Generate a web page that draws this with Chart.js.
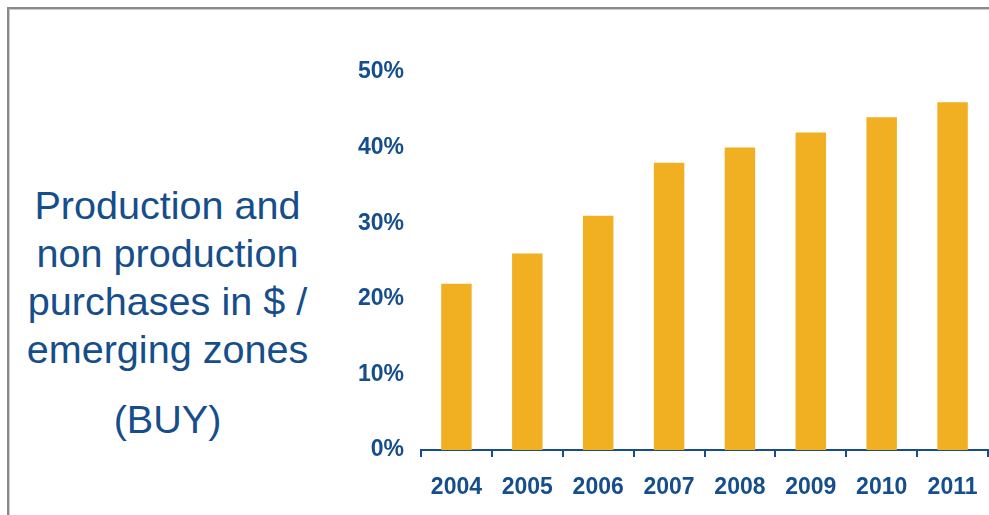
<!DOCTYPE html>
<html>
<head>
<meta charset="utf-8">
<script src="https://cdn.jsdelivr.net/npm/chart.js@4"></script>
<style>
  html,body{margin:0;padding:0;background:#fff;}
  #wrap{position:relative;width:989px;height:515px;overflow:hidden;background:#fff;}
  #frame{position:absolute;left:7px;top:7px;width:990px;height:520px;border-top:2px solid #8a8a8a;border-left:2px solid #8a8a8a;box-shadow:inset 1px 1px 0 #c9c9c9;}
  #cv{position:absolute;left:0;top:0;}
  .lbl{position:absolute;left:0;width:335px;text-align:center;font-family:"Liberation Sans",Arial,sans-serif;font-size:39.6px;line-height:48px;color:#164E8C;white-space:nowrap;}
</style>
</head>
<body>
<div id="wrap">
  <div id="frame"></div>
  <div class="lbl" style="top:181px;">Production and<br>non production<br>purchases in $ /<br>emerging zones</div>
  <div class="lbl" style="top:395px;">(BUY)</div>
  <canvas id="cv" width="989" height="515"></canvas>
</div>
<script>
const categories = ["2004","2005","2006","2007","2008","2009","2010","2011"];
const shareValues = [22, 26, 31, 38, 40, 42, 44, 46];
const yTickValues = [0, 10, 20, 30, 40, 50];

const BLUE = "#164E8C";
const GOLD = "#F0B022";

new Chart(document.getElementById("cv"), {
  type: "bar",
  data: {
    labels: categories,
    datasets: [{
      data: shareValues,
      backgroundColor: GOLD,
      borderWidth: 0,
      barPercentage: 0.43,
      categoryPercentage: 1.0
    }]
  },
  options: {
    responsive: false,
    animation: false,
    devicePixelRatio: 1,
    layout: { padding: { left: 300, right: 1, top: 72, bottom: 0 } },
    plugins: { legend: { display: false }, tooltip: { enabled: false } },
    scales: {
      x: {
        offset: true,
        grid: { display: true, offset: true, drawOnChartArea: false, drawTicks: true, tickLength: 7, color: BLUE, lineWidth: 2 },
        border: { display: true, color: BLUE, width: 2 },
        ticks: { color: BLUE, font: { family: "'Liberation Sans', Arial, sans-serif", size: 23, weight: "bold" }, padding: 17, maxRotation: 0 },
        afterFit: s => { s.height = 65; s.paddingLeft = 0; s.paddingRight = 0; }
      },
      y: {
        min: 0, max: 50,
        afterBuildTicks: s => { s.ticks = yTickValues.map(v => ({ value: v })); },
        grid: { display: false, drawTicks: false },
        border: { display: false },
        ticks: { color: BLUE, font: { family: "'Liberation Sans', Arial, sans-serif", size: 23, weight: "bold" }, padding: 17, callback: v => v + "%" },
        afterFit: s => { s.width = 121; }
      }
    }
  }
});
</script>
</body>
</html>
